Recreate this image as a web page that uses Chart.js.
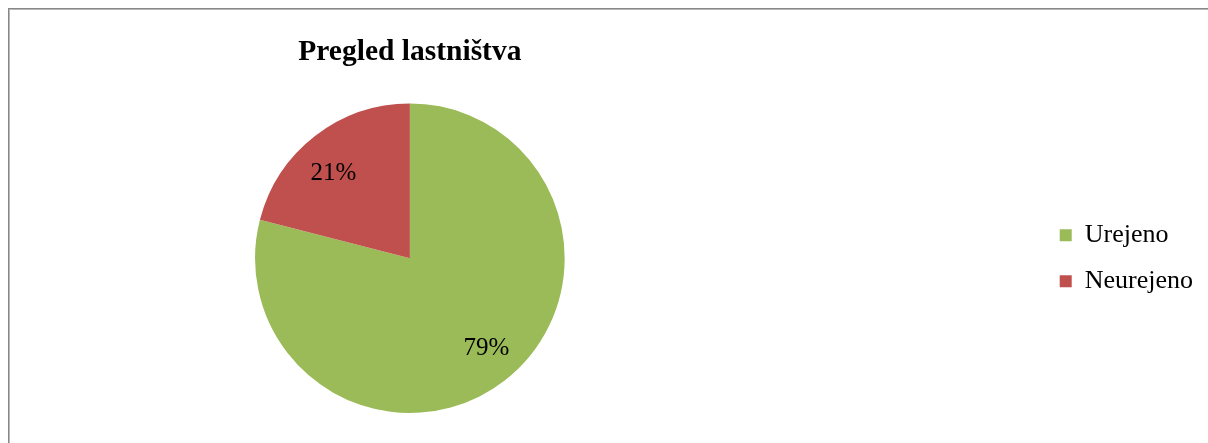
<!DOCTYPE html>
<html>
<head>
<meta charset="utf-8">
<title>Pregled lastništva</title>
<script src="https://cdn.jsdelivr.net/npm/chart.js@4.4.1/dist/chart.umd.min.js"></script>
<style>
    html, body { margin: 0; padding: 0; background: #fff; overflow: hidden; }
    #frame {
        position: absolute; left: 8px; top: 8px; right: 0; bottom: 0;
        border-left: 1px solid #878787; border-top: 1px solid #878787;
    }
    #frame-inner {
        position: absolute; left: 0; top: 0; right: 0; bottom: 0;
        border-left: 1px solid #b8b8b8; border-top: 1px solid #b8b8b8;
    }
    /* platno sega levo čez rob, da je krog pod naslovom */
    #ownershipChart { position: absolute; left: -220px; top: 0; }
</style>
</head>
<body>
<div id="frame"><div id="frame-inner"></div></div>
<canvas id="ownershipChart" width="1440" height="443"></canvas>
<script>
// Podatki za graf
const categories = ['Urejeno', 'Neurejeno'];
const shares = [79, 21];
const sliceColors = ['#9BBB59', '#C0504D'];

const serif = '"Liberation Serif", "Times New Roman", serif';

// Odstotki znotraj rezin (približno 3/4 polmera od središča, rahlo zasukano kot v Excelu)
const sliceLabels = {
    id: 'sliceLabels',
    afterDatasetsDraw(chart) {
        const ctx = chart.ctx;
        const data = chart.data.datasets[0].data;
        const total = data.reduce((a, b) => a + b, 0);
        const meta = chart.getDatasetMeta(0);
        ctx.save();
        ctx.font = '25px ' + serif;
        ctx.fillStyle = '#000';
        ctx.textAlign = 'center';
        ctx.textBaseline = 'middle';
        meta.data.forEach(function(arc, i) {
            const p = arc.getProps(['x', 'y', 'startAngle', 'endAngle', 'outerRadius'], true);
            const mid = (p.startAngle + p.endAngle) / 2 - 0.06;
            const r = p.outerRadius * 0.75;
            const pct = Math.round(data[i] / total * 100) + '%';
            ctx.fillText(pct, p.x + Math.cos(mid) * r, p.y + Math.sin(mid) * r + 3);
        });
        ctx.restore();
    }
};

document.addEventListener('DOMContentLoaded', function() {
    const ctx = document.getElementById('ownershipChart');

    new Chart(ctx.getContext('2d'), {
        type: 'pie',
        data: {
            labels: categories,
            datasets: [{
                data: shares,
                backgroundColor: sliceColors,
                borderWidth: 0
            }]
        },
        options: {
            responsive: false,
            animation: false,
            events: [],
            layout: {
                padding: { left: 0, right: 17, top: 0, bottom: 30 }
            },
            plugins: {
                title: {
                    display: true,
                    text: 'Pregled lastništva',
                    color: '#000',
                    fullSize: false,
                    font: { family: serif, size: 29.5, weight: 'bold', lineHeight: 1.2 },
                    padding: { top: 35, bottom: 33 }
                },
                legend: {
                    position: 'right',
                    align: 'center',
                    fullSize: false,
                    labels: {
                        color: '#000',
                        boxWidth: 12,
                        boxHeight: 12,
                        padding: 20,
                        font: { family: serif, size: 26, lineHeight: 1.2 }
                    }
                },
                tooltip: { enabled: false }
            }
        },
        plugins: [sliceLabels]
    });
});
</script>
</body>
</html>
